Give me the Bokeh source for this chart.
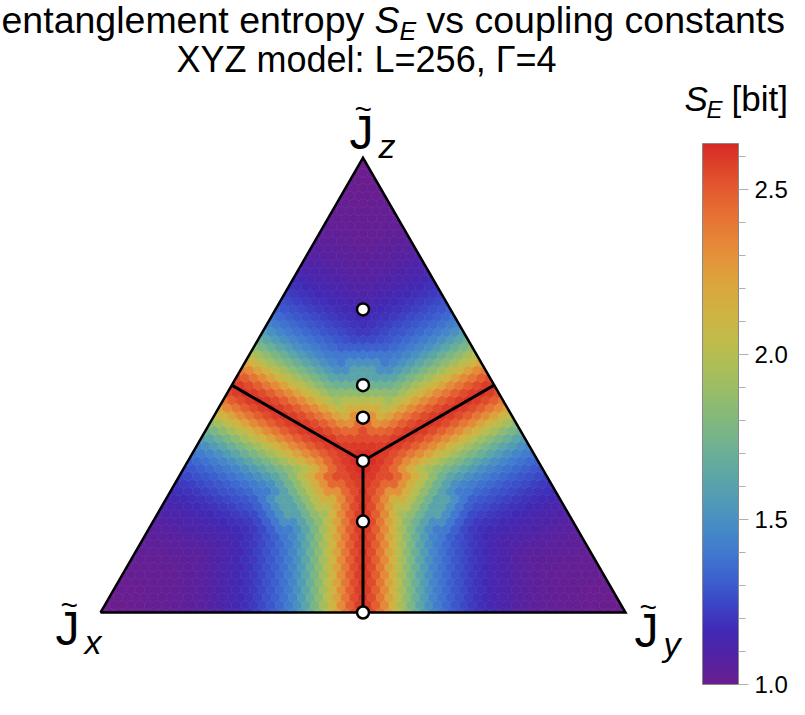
import numpy as np
from bokeh.plotting import figure
from bokeh.models import (Range1d, LinearColorMapper, ColorBar, FixedTicker,
                          PrintfTickFormatter, ColumnDataSource)
from bokeh.core.properties import value
from bokeh.embed import file_html
from bokeh.resources import INLINE

# ---------------- data ----------------
N_STEPS = 60  # coupling grid: Jx+Jy+Jz = 1 in steps of 1/60

# S_E [bit] versus the lattice gap q = N*(largest - second largest coupling)
SE_VS_GAP = [2.62, 2.59, 2.55, 2.48, 2.40, 2.32, 2.22, 2.12, 2.02, 1.93,
             1.85, 1.77, 1.70, 1.63, 1.57, 1.51, 1.46, 1.42, 1.38, 1.35,
             1.32, 1.29, 1.27, 1.25, 1.23, 1.21, 1.19, 1.18, 1.16, 1.15,
             1.14, 1.12, 1.11, 1.10, 1.09, 1.08, 1.07, 1.06, 1.06, 1.05,
             1.05, 1.04, 1.04, 1.03, 1.03, 1.03, 1.02, 1.02, 1.02, 1.02,
             1.01, 1.01, 1.01, 1.01, 1.01, 1.00, 1.00, 1.00, 1.00, 1.00,
             1.00]

# S_E [bit] versus distance (in grid steps) from the isotropic point
SE_VS_CENTER = [2.64, 2.63, 2.60, 2.55, 2.45, 2.30, 2.15, 2.00, 1.86, 1.73,
                1.61, 1.50, 1.40, 1.32, 1.25, 1.20, 1.16, 1.13, 1.10, 1.08,
                1.06, 1.05, 1.04, 1.03, 1.02, 1.01, 1.00]

# marked points on the Jx = Jy line, given by the anisotropy Delta = Jz/Jx
DELTA_MARKED = [0.0, 0.5, 1.0, 1.5, 2.0, 4.0]

# critical lines: from the isotropic point to the edge midpoints
ISOTROPIC = (1 / 3, 1 / 3, 1 / 3)
CRITICAL_ENDS = [(0.5, 0.5, 0.0), (0.5, 0.0, 0.5), (0.0, 0.5, 0.5)]

CBAR_TICKS = [1.0, 1.5, 2.0, 2.5]
CBAR_MINOR = [1.1, 1.2, 1.3, 1.4, 1.6, 1.7, 1.8, 1.9, 2.1, 2.2, 2.3, 2.4, 2.6]
SE_LOW, SE_HIGH = 1.0, 2.64

# ---------------- colour map ----------------
STOPS = [(1.00, "#6A1E8E"), (1.08, "#5322A3"), (1.16, "#4129B5"), (1.24, "#3B45C6"),
         (1.32, "#3C62CF"), (1.40, "#4079CF"), (1.48, "#478CC6"), (1.56, "#529BB6"),
         (1.64, "#5FA7A4"), (1.72, "#6FB192"), (1.80, "#82B87E"), (1.88, "#96BC6A"),
         (1.96, "#ABBE58"), (2.04, "#BFBC4B"), (2.12, "#CEB443"), (2.20, "#D9A83E"),
         (2.28, "#E2973A"), (2.36, "#E68237"), (2.44, "#E66C33"), (2.52, "#E2552E"),
         (2.60, "#DB3A28"), (2.64, "#D62A25")]


def hex2rgb(h):
    return [int(h[k:k + 2], 16) for k in (1, 3, 5)]


sv = np.array([s[0] for s in STOPS])
sc = np.array([hex2rgb(s[1]) for s in STOPS], dtype=float)
grid = np.linspace(SE_LOW, SE_HIGH, 256)
palette = []
for g in grid:
    rgb = [np.interp(g, sv, sc[:, c]) for c in range(3)]
    palette.append("#%02x%02x%02x" % tuple(int(round(v)) for v in rgb))

mapper = LinearColorMapper(palette=palette, low=SE_LOW, high=SE_HIGH)

# ---------------- geometry helpers ----------------
H3 = np.sqrt(3) / 2


def tern(jx, jy, jz):
    s = jx + jy + jz
    return (jy + jz / 2) / s, (jz * H3) / s


TRI = [(0.0, 0.0), (1.0, 0.0), (0.5, H3)]


def clip(poly):
    for e in range(3):
        a, b = TRI[e], TRI[(e + 1) % 3]
        out = []
        n = len(poly)
        for m in range(n):
            P, Q = poly[m], poly[(m + 1) % n]
            dP = (b[0] - a[0]) * (P[1] - a[1]) - (b[1] - a[1]) * (P[0] - a[0])
            dQ = (b[0] - a[0]) * (Q[1] - a[1]) - (b[1] - a[1]) * (Q[0] - a[0])
            if dP >= -1e-12:
                out.append(P)
            if (dP >= -1e-12) != (dQ >= -1e-12):
                t = dP / (dP - dQ)
                out.append((P[0] + t * (Q[0] - P[0]), P[1] + t * (Q[1] - P[1])))
        poly = out
        if not poly:
            break
    return poly


R = 1.0 / (N_STEPS * np.sqrt(3))
ang = np.deg2rad([30, 90, 150, 210, 270, 330])
cx0, cy0 = tern(*ISOTROPIC)

xs, ys, vals = [], [], []
for k in range(N_STEPS + 1):
    for j in range(N_STEPS + 1 - k):
        i = N_STEPS - j - k
        a, b, c = sorted([i, j, k], reverse=True)
        q = a - b
        x, y = tern(i, j, k)
        rho = int(round(np.hypot(x - cx0, y - cy0) * N_STEPS))
        s = SE_VS_GAP[q]
        if rho < len(SE_VS_CENTER):
            s = max(s, SE_VS_CENTER[rho])
        poly = clip([(x + R * np.cos(t), y + R * np.sin(t)) for t in ang])
        if len(poly) < 3:
            continue
        xs.append([p_[0] for p_ in poly])
        ys.append([p_[1] for p_ in poly])
        vals.append(s)

cells = ColumnDataSource(dict(xs=xs, ys=ys, S=vals))

# ---------------- figure ----------------
W, H = 789, 699
X0, Y0, SCALE = 100.0, 612.0, 525.0   # canvas position of the Jx corner and edge length


def sx(X):
    return (X - X0) / SCALE


def sy(Y):
    return (Y0 - Y) / SCALE


p = figure(width=W, height=H, output_backend="svg", toolbar_location=None,
           x_range=Range1d(sx(0), sx(W)), y_range=Range1d(sy(H), sy(0)),
           x_axis_location=None, y_axis_location=None, min_border=0)
p.grid.visible = False
p.outline_line_color = None
p.background_fill_color = "white"

fill = {"field": "S", "transform": mapper}
p.patches("xs", "ys", source=cells, fill_color=fill, line_color=fill, line_width=0.6)

# triangle outline
corners = [tern(1, 0, 0), tern(0, 1, 0), tern(0, 0, 1), tern(1, 0, 0)]
p.line([c_[0] for c_ in corners], [c_[1] for c_ in corners],
       line_color="black", line_width=2.5, line_join="miter")

# critical lines
for end in CRITICAL_ENDS:
    ex, ey = tern(*end)
    p.line([cx0, ex], [cy0, ey], line_color="black", line_width=3)

# marked points
mx, my = [], []
for d in DELTA_MARKED:
    jx = 1.0 / (2 + d)
    jz = d / (2 + d)
    x, y = tern(jx, jx, jz)
    mx.append(x)
    my.append(y)
p.scatter(mx, my, size=12, fill_color="white", line_color="black", line_width=2.5)

FONT = "Liberation Sans"
CENTRAL = 0.3465  # text is rendered centred; shift so that Y is the baseline


def lab(X, Y, text, size, style="normal", align="left"):
    p.text(x=[sx(X)], y=[sy(Y - CENTRAL * size)], text=[text], text_font=value(FONT),
           text_font_size=value("%gpx" % size), text_font_style=style,
           text_align=align, text_baseline="alphabetic", text_color="black")


# title
lab(1, 32, "entanglement entropy", 37.5)
lab(374, 32, "S", 37.5, "italic")
lab(399, 39, "E", 25, "italic")
lab(426, 32, "vs coupling constants", 37.5)
lab(366, 71, "XYZ model: L=256, \u0393=4", 36, align="center")


# corner labels
def corner(X, Y, sub):
    lab(X, Y, "J", 48)
    lab(X + 5, Y - 31, "~", 30)
    lab(X + 29, Y + 8, sub, 34, "italic")


corner(55, 645, "x")
corner(634, 647, "y")
corner(349, 149, "z")

# colour-bar title
lab(684, 110, "S", 35, "italic")
lab(706, 117, "E", 24, "italic")
lab(731, 110, "[bit]", 35)

cb = ColorBar(color_mapper=mapper, location=(702, H - 684), width=36, height=541,
              padding=0, title=None,
              ticker=FixedTicker(ticks=CBAR_TICKS, minor_ticks=CBAR_MINOR),
              formatter=PrintfTickFormatter(format="%.1f"),
              major_label_text_font=FONT, major_label_text_font_size="24px",
              major_label_text_color="black",
              major_tick_out=10, major_tick_in=0, minor_tick_out=7, minor_tick_in=0,
              major_tick_line_color="#b0b0b0", minor_tick_line_color="#b0b0b0",
              bar_line_color="#888888", label_standoff=6,
              background_fill_alpha=0, border_line_color=None)
p.add_layout(cb)

open("out.html", "w").write(file_html(p, INLINE))
